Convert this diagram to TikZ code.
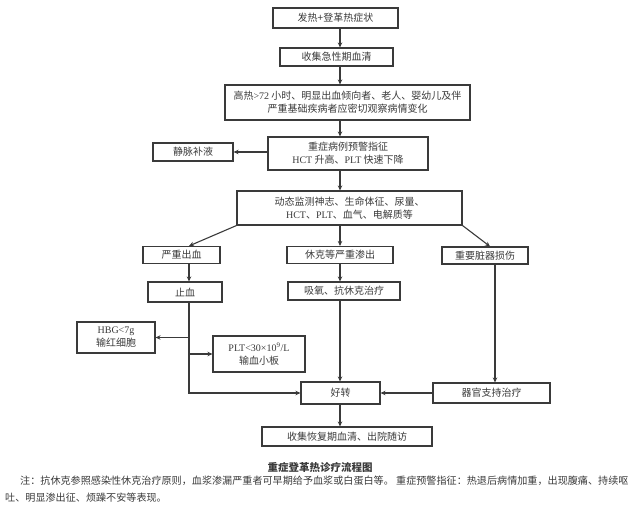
\documentclass[tikz,border=0pt]{standalone}
\usepackage{fontspec}
\setmainfont{Liberation Serif}
\newfontfamily\cjk{Noto Sans CJK SC}
\newcommand{\lat}[1]{{\rmfamily #1}}
\usetikzlibrary{arrows.meta}
\definecolor{ink}{HTML}{3A3A3A}
\begin{document}
\begin{tikzpicture}[x=1pt,y=-1pt,
  box/.style={draw=ink,line width=1.1pt,inner sep=0pt,align=center,text=ink,
    font=\cjk\fontsize{10}{13}\selectfont},
  conn/.style={draw=ink,line width=1.1pt,-{Stealth[length=5pt,width=4.5pt]}},
  plain/.style={draw=ink,line width=1.1pt}]
\useasboundingbox (0,0) rectangle (640,518);
\coordinate (mx) at (340,0);
\coordinate (lx) at (189,0);
\coordinate (rx) at (495,0);
\coordinate (qx) at (490,0);
\node[box,minimum width=125pt,minimum height=20pt] (b1) at (335.5,18) {发热+登革热症状};
\node[box,minimum width=113pt,minimum height=18pt] (b2) at (336.5,57) {收集急性期血清};
\node[box,minimum width=245pt,minimum height=35pt] (b3) at (347.5,102.5) {高热\lat{>72} 小时、明显出血倾向者、老人、婴幼儿及伴\\严重基础疾病者应密切观察病情变化};
\node[box,minimum width=160pt,minimum height=33pt] (b4) at (348,153.5) {重症病例预警指征\\\lat{HCT} 升高、\lat{PLT} 快速下降};
\node[box,minimum width=80pt,minimum height=18pt] (iv) at (193,152) {静脉补液};
\node[box,minimum width=225pt,minimum height=34pt] (b5) at (349.5,208) {动态监测神志、生命体征、尿量、\\\lat{HCT}、\lat{PLT}、血气、电解质等};
\node[box,minimum width=77pt,minimum height=17pt] (c1) at (181.5,255) {严重出血};
\node[box,minimum width=106pt,minimum height=17pt] (c2) at (340,255) {休克等严重渗出};
\node[box,minimum width=86pt,minimum height=17pt] (c3) at (485,255.5) {重要脏器损伤};
\node[box,minimum width=74pt,minimum height=20pt] (d1) at (185,292) {止血};
\node[box,minimum width=112pt,minimum height=18pt] (d2) at (344,291) {吸氧、抗休克治疗};
\node[box,minimum width=78pt,minimum height=31pt] (hbg) at (116,337.5) {\lat{HBG<7g}\\输红细胞};
\node[box,minimum width=92pt,minimum height=36pt] (plt) at (259,354) {\lat{PLT<30×10\textsuperscript{9}/L}\\输血小板};
\node[box,minimum width=79pt,minimum height=22pt] (hz) at (340.5,393) {好转};
\node[box,minimum width=117pt,minimum height=20pt] (qg) at (491.5,393) {器官支持治疗};
\node[box,minimum width=170pt,minimum height=19pt] (last) at (347,436.5) {收集恢复期血清、出院随访};
\draw[conn] (b1.south -| mx) -- (b2.north -| mx);
\draw[conn] (b2.south -| mx) -- (b3.north -| mx);
\draw[conn] (b3.south -| mx) -- (b4.north -| mx);
\draw[conn] (b4.west |- iv.east) -- (iv.east);
\draw[conn] (b4.south -| mx) -- (b5.north -| mx);
\draw[conn] (b5.south west) -- (c1.north -| lx);
\draw[conn] (b5.south -| mx) -- (c2.north -| mx);
\draw[conn] (b5.south east) -- (c3.north -| qx);
\draw[conn] (c1.south -| lx) -- (d1.north -| lx);
\draw[conn] (c2.south -| mx) -- (d2.north -| mx);
\draw[conn] (d1.south -| lx) |- (hz.west);
\draw[conn] (hbg.east -| lx) -- (hbg.east);
\draw[conn] (plt.west -| lx) -- (plt.west);
\draw[conn] (d2.south -| mx) -- (hz.north -| mx);
\draw[conn] (c3.south -| rx) -- (qg.north -| rx);
\draw[conn] (qg.west) -- (hz.east);
\draw[conn] (hz.south -| mx) -- (last.north -| mx);
\node[font=\cjk\bfseries\fontsize{10.5}{13}\selectfont,text=ink] (cap) at (320,467) {重症登革热诊疗流程图};
\node[anchor=west,inner sep=0pt,font=\cjk\fontsize{10.1}{12}\selectfont,text=ink] (n1) at (20,481) {注：抗休克参照感染性休克治疗原则，血浆渗漏严重者可早期给予血浆或白蛋白等。\ 重症预警指征：热退后病情加重，出现腹痛、持续呕};
\node[anchor=west,inner sep=0pt,font=\cjk\fontsize{10.1}{12}\selectfont,text=ink] (n2) at (5,498) {吐、明显渗出征、烦躁不安等表现。};
\end{tikzpicture}
\end{document}
